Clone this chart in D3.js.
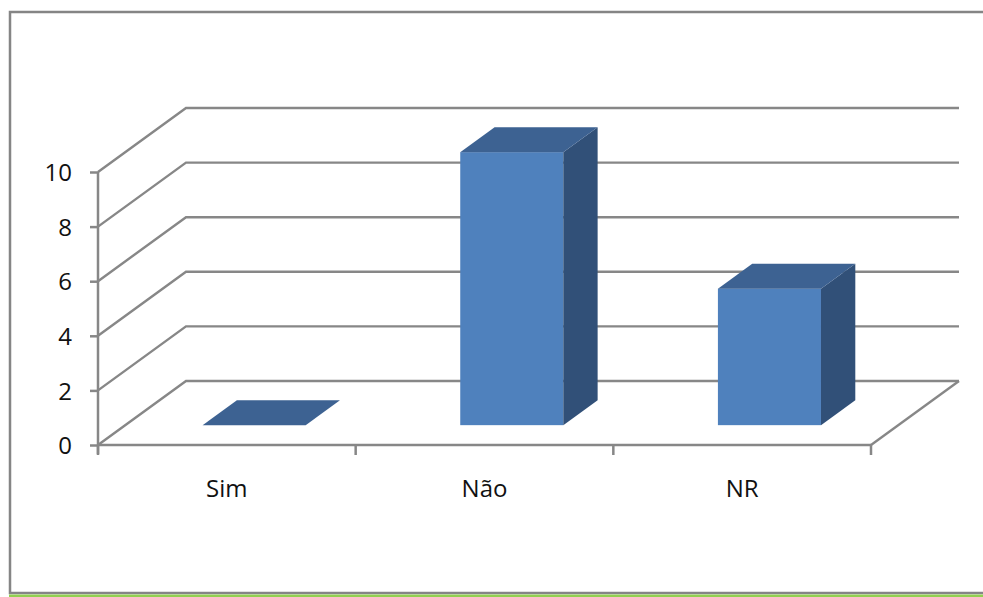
<!DOCTYPE html>
<html>
<head>
<meta charset="utf-8">
<script src="https://cdn.jsdelivr.net/npm/d3@7"></script>
<style>
  html, body { margin: 0; padding: 0; background: #fff; }
  svg { display: block; }
  text { font-family: "Open Sans", "Noto Sans", sans-serif; fill: #111; }
</style>
</head>
<body>
<svg id="chart" width="983" height="597"></svg>
<script>
// Responses per answer
const categories = ["Sim", "Não", "NR"];
const values = [0, 10, 5];
const yTicks = [0, 2, 4, 6, 8, 10];

const svg = d3.select("#chart");

// Plot geometry: front plane of the floor and the depth offset of the back wall
const plotLeft = 98, plotRight = 871, plotBottom = 445, plotTop = 172;
const depth = { dx: 88, dy: 64 };
const barDepth = [0.31, 0.70]; // front and back of each bar as a fraction of floor depth

const y = d3.scaleLinear().domain([0, 10]).range([plotBottom, plotTop]);
const xCat = d3.scaleBand().domain(categories).range([plotLeft, plotRight]);
const xBar = d3.scaleBand().domain(categories).range([plotLeft, plotRight])
  .paddingInner(0.6).paddingOuter(0.3);

const grid = "#878787";

// Outer frame
svg.append("rect")
  .attr("x", 10).attr("y", 12).attr("width", 1000).attr("height", 581)
  .attr("fill", "none").attr("stroke", "#858585").attr("stroke-width", 2.5);
svg.append("line")
  .attr("x1", 9).attr("x2", 983).attr("y1", 595.8).attr("y2", 595.8)
  .attr("stroke", "#92d050").attr("stroke-width", 2.6);

// Side wall and back wall gridlines
const g = svg.append("g");
g.selectAll("path.grid").data(yTicks).join("path")
  .attr("class", "grid")
  .attr("d", v => {
    const yy = y(v);
    return `M${plotLeft},${yy}L${plotLeft + depth.dx},${yy - depth.dy}L${plotRight + depth.dx},${yy - depth.dy}`;
  })
  .attr("fill", "none").attr("stroke", grid).attr("stroke-width", 2.4);

// Floor edge on the right
g.append("path")
  .attr("d", `M${plotRight},${y(0)}L${plotRight + depth.dx},${y(0) - depth.dy}`)
  .attr("fill", "none").attr("stroke", grid).attr("stroke-width", 2.4);

// Value axis
const yAxis = d3.axisLeft(y).tickValues(yTicks).tickSize(8).tickPadding(18)
  .tickFormat(d3.format("d"));
const ya = svg.append("g").attr("transform", `translate(${plotLeft},0)`).call(yAxis);
ya.select(".domain").attr("stroke", grid).attr("stroke-width", 2.5)
  .attr("d", `M0,${y(10)}V${plotBottom + 9}`);
ya.selectAll(".tick line").attr("stroke", grid).attr("stroke-width", 2.5);
ya.selectAll(".tick text").style("font-size", "24px").attr("fill", "#111")
  .attr("dy", "0.36em");

// Category axis: boundary ticks and centred labels
const xAxis = d3.axisBottom(xCat).tickSize(0).tickPadding(35);
const xa = svg.append("g").attr("transform", `translate(0,${plotBottom})`).call(xAxis);
xa.select(".domain").attr("stroke", grid).attr("stroke-width", 2.5)
  .attr("d", `M${plotLeft},0H${plotRight}`);
xa.selectAll(".tick text").style("font-size", "24px").attr("fill", "#111");
const bounds = categories.map(c => xCat(c)).concat([plotRight]);
xa.selectAll("line.bound").data(bounds).join("line")
  .attr("class", "bound")
  .attr("x1", d => d).attr("x2", d => d)
  .attr("y1", 0).attr("y2", 10)
  .attr("stroke", grid).attr("stroke-width", 2.5);

// 3D bars
const frontC = "#4f81bd", topC = "#3d6292", sideC = "#315078";
const f0x = depth.dx * barDepth[0], f0y = depth.dy * barDepth[0];
const f1x = depth.dx * barDepth[1], f1y = depth.dy * barDepth[1];
const dX = f1x - f0x, dY = f1y - f0y;

const bars = svg.append("g").selectAll("g.bar")
  .data(categories.map((c, i) => ({ c, v: values[i] })))
  .join("g").attr("class", "bar");

bars.each(function(d) {
  const el = d3.select(this);
  const x0 = xBar(d.c) + f0x, x1 = x0 + xBar.bandwidth();
  const yb = y(0) - f0y, yt = y(d.v) - f0y;
  if (d.v > 0) {
    el.append("rect")
      .attr("x", x0).attr("y", yt).attr("width", x1 - x0).attr("height", yb - yt)
      .attr("fill", frontC);
    el.append("path")
      .attr("d", `M${x1},${yt}L${x1 + dX},${yt - dY}L${x1 + dX},${yb - dY}L${x1},${yb}Z`)
      .attr("fill", sideC);
  }
  el.append("path")
    .attr("d", `M${x0},${yt}L${x0 + dX},${yt - dY}L${x1 + dX},${yt - dY}L${x1},${yt}Z`)
    .attr("fill", topC);
});
</script>
</body>
</html>
